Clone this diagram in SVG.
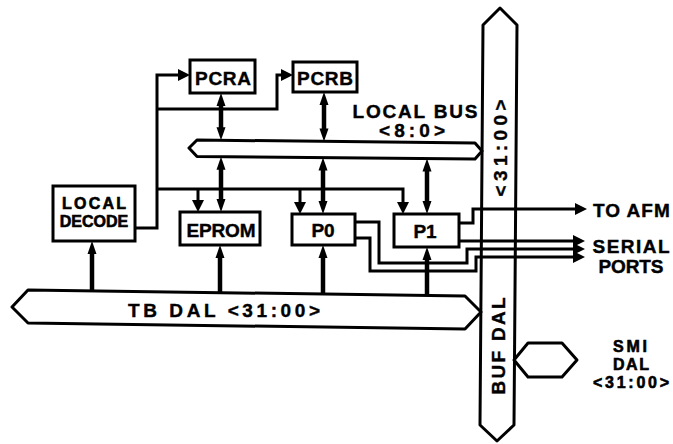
<svg xmlns="http://www.w3.org/2000/svg" width="673" height="444" viewBox="0 0 673 444">
<style>
.box{fill:#fff;stroke:#000;stroke-width:3}
.bus{fill:#fff;stroke:#000;stroke-width:3;stroke-linejoin:round}
.ctl{fill:none;stroke:#000;stroke-width:3}
.dat{fill:none;stroke:#000;stroke-width:4.5}
text{font-family:"Liberation Sans",Arial,sans-serif;font-weight:bold;fill:#000;stroke:#000;stroke-width:0.4;font-size:19px}
.m{text-anchor:middle}
.s{font-size:16px;stroke-width:0.6}
</style>
<defs>
<marker id="ah" markerUnits="userSpaceOnUse" markerWidth="14" markerHeight="14" viewBox="0 0 14 14" refX="3" refY="7" orient="auto-start-reverse"><path d="M0,1 L12,7 L0,13 z"/></marker>
<marker id="bh" markerUnits="userSpaceOnUse" markerWidth="14" markerHeight="10" viewBox="0 0 14 10" refX="2" refY="5" orient="auto-start-reverse"><path d="M0,0.5 L13,5 L0,9.5 z"/></marker>
</defs>
<rect width="673" height="444" fill="#fff"/>

<g id="buf-dal">
<polygon class="bus" points="500,8 517,25 514,425 497,441 480,425 483,25"/>
<text class="m" transform="translate(507,148) rotate(-90)" textLength="97">&lt;31:00&gt;</text>
<text class="m" transform="translate(505,346) rotate(-90)" textLength="97">BUF DAL</text>
</g>
<g id="local-bus">
<polygon class="bus" points="189,148 197,140 475,143 482,151 475,159 197,156.5"/>
<text class="m" x="415" y="118" textLength="125">LOCAL BUS</text>
<text class="m" x="412" y="137" font-size="17" textLength="66">&lt;8:0&gt;</text>
</g>
<g id="tb-dal">
<polygon class="bus" points="12,307 28,290 465,296 481,312 465,329 28,323"/>
<text class="m" x="224" y="317" textLength="192">TB DAL &lt;31:00&gt;</text>
</g>
<g id="smi-dal">
<polygon class="bus" points="514,360 528,343 562,343 577,360 562,377 528,377"/>
<text class="m s" x="630" y="352" textLength="34">SMI</text>
<text class="m s" x="631" y="370" textLength="36">DAL</text>
<text class="m s" x="631" y="388" textLength="76">&lt;31:00&gt;</text>
</g>

<g id="connectors">
<path class="ctl" d="M135,228 H157 V75 H181" marker-end="url(#ah)"/>
<path class="ctl" d="M157,109 H277 V75 H284" marker-end="url(#ah)"/>
<path class="ctl" d="M157,189 H403 V205" marker-end="url(#ah)"/>
<path class="ctl" d="M198,189 V203" marker-end="url(#ah)"/>
<path class="ctl" d="M300,189 V205" marker-end="url(#ah)"/>
<path class="ctl" d="M459,223 H473 V209 H578" marker-end="url(#ah)"/>
<path class="ctl" d="M459,241 H576" marker-end="url(#ah)"/>
<path class="ctl" d="M355,222 H379 V263 H467 V249 H576" marker-end="url(#ah)"/>
<path class="ctl" d="M355,238 H370 V271 H476 V257 H576" marker-end="url(#ah)"/>
<path class="dat" d="M221,104 V129.3" marker-start="url(#bh)" marker-end="url(#bh)"/>
<path class="dat" d="M324,103 V130.4" marker-start="url(#bh)" marker-end="url(#bh)"/>
<path class="dat" d="M221,167.7 V201" marker-start="url(#bh)" marker-end="url(#bh)"/>
<path class="dat" d="M323,168.6 V203" marker-start="url(#bh)" marker-end="url(#bh)"/>
<path class="dat" d="M427,169.6 V203" marker-start="url(#bh)" marker-end="url(#bh)"/>
<path class="dat" d="M92,291 V252" marker-end="url(#bh)"/>
<path class="dat" d="M220,292.6 V256" marker-end="url(#bh)"/>
<path class="dat" d="M323,294 V256" marker-end="url(#bh)"/>
<path class="dat" d="M427,295.5 V258" marker-end="url(#bh)"/>
</g>

<g id="pcra"><rect class="box" x="190" y="60" width="65" height="33"/><text class="m" x="223" y="85" textLength="56">PCRA</text></g>
<g id="pcrb"><rect class="box" x="293" y="62" width="64" height="30"/><text class="m" x="325" y="85" textLength="56">PCRB</text></g>
<g id="local-decode"><rect class="box" x="53" y="186" width="82" height="55"/><text class="m s" x="94" y="209" textLength="64">LOCAL</text><text class="m s" x="94" y="227">DECODE</text></g>
<g id="eprom"><rect class="box" x="180" y="212" width="80" height="33"/><text class="m" x="221" y="237" textLength="69">EPROM</text></g>
<g id="p0"><rect class="box" x="292" y="214" width="63" height="31"/><text class="m" x="323" y="237">P0</text></g>
<g id="p1"><rect class="box" x="394" y="214" width="65" height="33"/><text class="m" x="425" y="238">P1</text></g>

<g id="labels">
<text x="593" y="217" letter-spacing="1">TO AFM</text>
<text class="m" x="631" y="253" font-size="17.5" textLength="77">SERIAL</text>
<text class="m" x="631" y="273" font-size="17.5" textLength="65">PORTS</text>
</g>
</svg>
